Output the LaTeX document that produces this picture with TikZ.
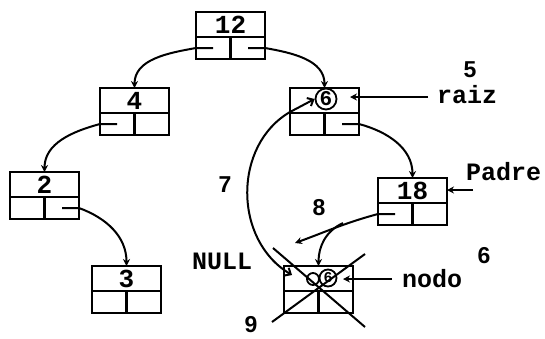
\documentclass[tikz,border=0pt]{standalone}
\usepackage{fontspec}
\setmainfont{Liberation Sans}
\newfontfamily\monof{Liberation Mono}
\usetikzlibrary{arrows.meta}
\tikzset{
  caja/.style={draw,line width=2.5pt,minimum width=69pt,minimum height=47pt,inner sep=0pt,outer sep=0pt},
  lw/.style={line width=2.5pt},
  conn/.style={line width=2pt,-{Stealth[length=7pt,width=7pt]}},
  plain/.style={line width=2pt},
  num/.style={font=\monof\bfseries\fontsize{26}{26}\selectfont,inner sep=0pt,anchor=base},
  lab/.style={font=\monof\bfseries\fontsize{25}{25}\selectfont,inner sep=0pt,anchor=base west},
  dig/.style={font=\bfseries\fontsize{23}{23}\selectfont,inner sep=0pt,anchor=base},
  ring/.style={circle,draw,line width=1.8pt,inner sep=0pt}
}
\newcommand{\cajabox}[4]{% name, center x, center y, label
  \node[caja] (#1) at (#2,#3) {};
  \draw[lw] ([yshift=-25pt]#1.north west) -- ([yshift=-25pt]#1.north east);
  \draw[lw] ([yshift=-25pt]#1.north) -- (#1.south);
  \coordinate (#1-l) at ([xshift=17pt,yshift=-36pt]#1.north west);
  \coordinate (#1-r) at ([xshift=-17pt,yshift=-36pt]#1.north east);
  \node[num] (#1-t) at ([yshift=-21pt]#1.north) {#4};
}
\begin{document}
\begin{tikzpicture}[x=1pt,y=1pt]
\useasboundingbox (0,0) rectangle (545,-338);

% boxes
\cajabox{A}{230.5}{-35.5}{12}
\cajabox{B}{134.5}{-111.5}{4}
\cajabox{C}{324.5}{-111.5}{}
\cajabox{D}{44.5}{-195.5}{2}
\cajabox{E}{412.5}{-201.5}{18}
\cajabox{F}{126.5}{-289.5}{3}
\cajabox{G}{318.5}{-289.5}{}

% tree pointers
\draw[conn] (A-l) -- (A-l -| A.west) to[out=190,in=90] (B.north);
\draw[conn] (A-r) -- (A-r -| A.east) to[out=-10,in=90] (C.north);
\draw[conn] (B-l) -- (B-l -| B.west) to[out=195,in=90] (D.north);
\draw[conn] (C-r) -- (C-r -| C.east) to[out=-15,in=90] (E.north);
\draw[conn] (D-r) -- (D-r -| D.east) to[out=-20,in=90] (F.north);

% 18 -> NULL and 18 -> nodo
\coordinate (nl) at (295,-243);
\coordinate (br) at (343,-223);
\draw[conn] (E-l) -- (E-l -| E.west) to[out=195,in=20] (nl);
\draw[conn] (br) to[out=205,in=90] (G.north);

% circled 6 in raiz node
\node[ring,minimum size=21pt,font=\monof\bfseries\fontsize{21}{21}\selectfont] (c6) at (326,-99) {6};

% big curve 7
\coordinate (s7) at (292,-275);
\coordinate (e7) at (c6.west);
\draw[line width=2pt,{Straight Barb[length=5pt,width=9pt]}-{Straight Barb[length=5pt,width=9pt]}]
  (s7) .. controls (233,-240) and (233,-145) .. (290,-112) -- (e7);

% garbled contents of deleted node
\node[ring,minimum size=12pt] (g1) at (313,-279) {};
\node[ring,minimum size=17pt,font=\monof\bfseries\fontsize{15}{15}\selectfont] (g2) at (328,-278) {6};

% cross over deleted node
\coordinate (x1) at (273,-248);
\coordinate (x2) at (365,-327);
\coordinate (x3) at (365,-254);
\coordinate (x4) at (272,-322);
\draw[plain] (x1) -- (x2);
\draw[plain] (x3) -- (x4);

% labels with arrows
\node[lab] (raiz) at (437,-103) {raiz};
\draw[conn] ([xshift=-9pt,yshift=6pt]raiz.base west) -- ([xshift=-9pt,yshift=6pt]raiz.base west -| C.east);
\node[lab] (padre) at (466,-180) {Padre};
\coordinate (pa) at (473,-190);
\draw[conn] (pa) -- (pa -| E.east);
\node[lab] (nodo) at (402,-287) {nodo};
\draw[conn] ([xshift=-10pt,yshift=8pt]nodo.base west) -- ([xshift=-10pt,yshift=8pt]nodo.base west -| G.east);
\node[lab] (null) at (192,-269) {NULL};

% step numbers
\node[dig] (n5) at (470,-77) {5};
\node[dig] (n6) at (484,-263) {6};
\node[dig] (n7) at (225,-192) {7};
\node[dig] (n8) at (319,-215) {8};
\node[dig] (n9) at (251,-332) {9};
\end{tikzpicture}
\end{document}
